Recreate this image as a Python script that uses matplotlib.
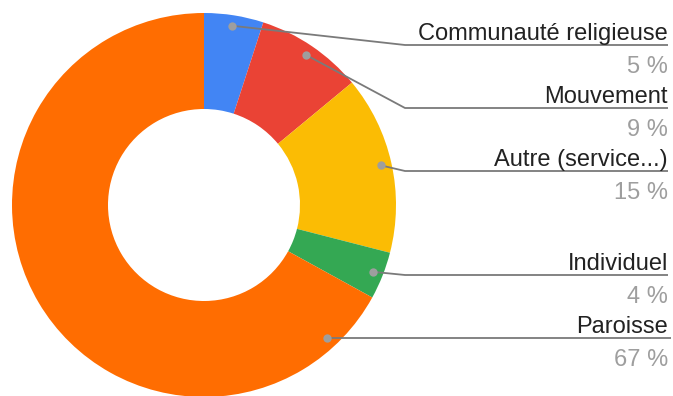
import numpy as np
import matplotlib
matplotlib.use("Agg")
import matplotlib.pyplot as plt

labels = ["Communauté religieuse", "Mouvement", "Autre (service...)", "Individuel", "Paroisse"]
values = [5, 9, 15, 4, 67]
colors = ["#4285F4", "#EA4335", "#FBBC04", "#34A853", "#FF6D01"]
pct_labels = ["5 %", "9 %", "15 %", "4 %", "67 %"]

W, H = 673, 396
fig = plt.figure(figsize=(W / 100, H / 100), dpi=100)
ax = fig.add_axes([0, 0, 1, 1])

cx, cy, R = 204, H - 205, 192
ax.pie(values, colors=colors, startangle=90, counterclock=False,
       radius=R, center=(cx, cy), frame=True,
       wedgeprops=dict(width=R * 0.5, linewidth=0))
ax.set_xlim(0, W)
ax.set_ylim(0, H)
ax.set_aspect("equal")
ax.axis("off")

# label line positions (pixel rows from top)
line_rows = [45, 108, 171, 275, 338]
elbow_x = 405
right_x = 668
dot_r = 0.945 * R
total = sum(values)
cum = 0
for i, (lab, v) in enumerate(zip(labels, values)):
    mid = (cum + v / 2) / total
    cum += v
    ang = np.deg2rad(90 - 360 * mid)
    ly = H - line_rows[i]
    if v / total > 0.5:
        dy = ly - cy
        dx = np.sqrt(max(dot_r ** 2 - dy ** 2, 0))
        px, py = cx + dx, ly
    else:
        px, py = cx + dot_r * np.cos(ang), cy + dot_r * np.sin(ang)
    ax.plot([px, elbow_x, right_x + (3 if i == 4 else 0)], [py, ly, ly],
            color="#7a7a7a", lw=1.3, solid_capstyle="butt", zorder=3)
    ax.plot([px], [py], "o", color="#9e9e9e", ms=6, mec="none", zorder=4)
    ax.text(right_x, ly + 5, lab, ha="right", va="baseline", fontsize=17,
            family="Liberation Sans", color="#222222")
    ax.text(right_x, ly - 28, pct_labels[i], ha="right", va="baseline", fontsize=17,
            family="Liberation Sans", color="#9e9e9e")

fig.savefig("out.png", dpi=100)
